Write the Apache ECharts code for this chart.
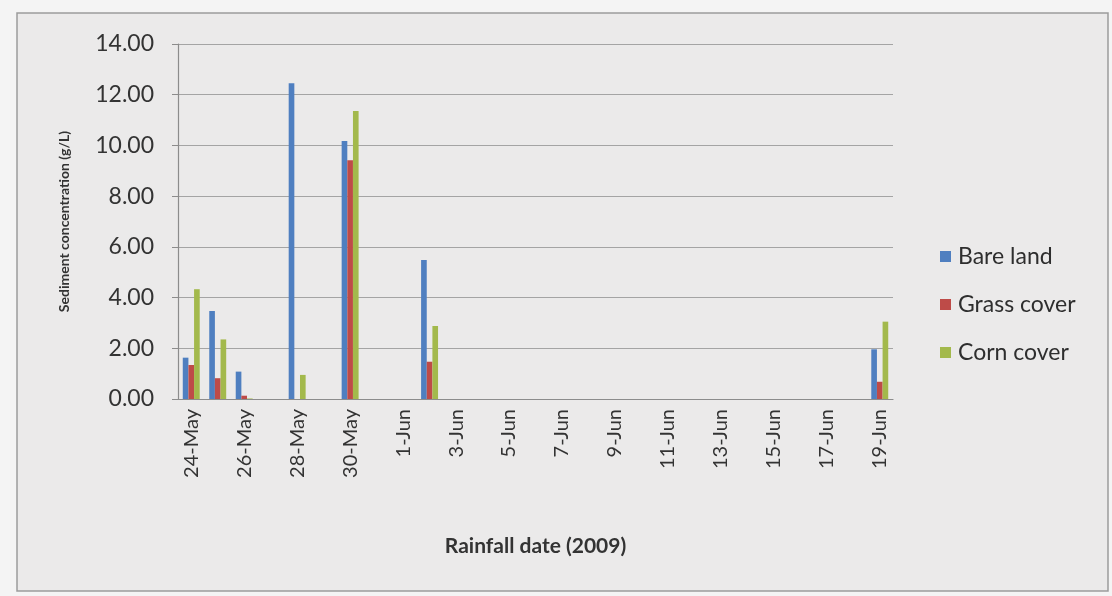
<!DOCTYPE html>
<html>
<head>
<meta charset="utf-8">
<script src="https://cdn.jsdelivr.net/npm/echarts@6/dist/echarts.min.js"></script>
<style>
  html, body { margin: 0; padding: 0; background: #f4f4f4; }
  #chart { width: 1112px; height: 596px; }
</style>
</head>
<body>
<div id="chart"></div>
<script>
// Daily rainfall dates, 24 May – 19 June 2009
const dates = [
  '24-May', '25-May', '26-May', '27-May', '28-May', '29-May', '30-May', '31-May',
  '1-Jun', '2-Jun', '3-Jun', '4-Jun', '5-Jun', '6-Jun', '7-Jun', '8-Jun',
  '9-Jun', '10-Jun', '11-Jun', '12-Jun', '13-Jun', '14-Jun', '15-Jun', '16-Jun',
  '17-Jun', '18-Jun', '19-Jun'
];

// Sediment concentration (g/L); null = no runoff event that day
const bareLand = [1.63, 3.47, 1.08, null, 12.45, null, 10.17, null,
  null, 5.48, null, null, null, null, null, null,
  null, null, null, null, null, null, null, null,
  null, null, 1.96];
const grassCover = [1.34, 0.82, 0.13, null, 0, null, 9.42, null,
  null, 1.47, null, null, null, null, null, null,
  null, null, null, null, null, null, null, null,
  null, null, 0.68];
const cornCover = [4.33, 2.35, 0.02, null, 0.95, null, 11.36, null,
  null, 2.88, null, null, null, null, null, null,
  null, null, null, null, null, null, null, null,
  null, null, 3.05];

const seriesNames = ['Bare land', 'Grass cover', 'Corn cover'];
const seriesColors = ['#4f7fc0', '#be4b48', '#a3b94c'];

const font = 'Lato, "Open Sans", sans-serif';
const chart = echarts.init(document.getElementById('chart'), null, { renderer: 'canvas' });

const seriesData = [bareLand, grassCover, cornCover];

chart.setOption({
  animation: false,
  backgroundColor: '#f4f4f4',
  graphic: [
    {
      type: 'rect',
      silent: true,
      z: -10,
      shape: { x: 17, y: 13, width: 1091, height: 578 },
      style: { fill: '#ebeaea', stroke: '#9c9c9c', lineWidth: 1.5 }
    }
  ],
  grid: { left: 178, right: 219, top: 44, bottom: 197 },
  legend: {
    orient: 'vertical',
    left: 935,
    top: 240,
    itemGap: 25,
    itemWidth: 11,
    itemHeight: 11,
    icon: 'rect',
    textStyle: { fontFamily: font, fontSize: 23, color: '#2e2e2e', padding: [0, 0, 0, 2] },
    data: seriesNames
  },
  xAxis: {
    type: 'category',
    data: dates,
    boundaryGap: true,
    name: 'Rainfall date (2009)',
    nameLocation: 'middle',
    nameGap: 137,
    nameMoveOverlap: false,
    nameTextStyle: { fontFamily: font, fontSize: 21, fontWeight: 'bold', color: '#333' },
    axisLine: { lineStyle: { color: '#8c8c8c', width: 1.2 } },
    axisTick: { show: false },
    axisLabel: {
      interval: 1,
      rotate: 90,
      margin: 10,
      fontFamily: font,
      fontSize: 20,
      color: '#333'
    }
  },
  yAxis: {
    type: 'value',
    min: 0,
    max: 14,
    interval: 2,
    name: 'Sediment concentration (g/L)',
    nameLocation: 'middle',
    nameGap: 107,
    nameMoveOverlap: false,
    nameTextStyle: { fontFamily: font, fontSize: 14, fontWeight: 'bold', color: '#333' },
    axisLine: { show: true, lineStyle: { color: '#8c8c8c', width: 1.2 } },
    axisTick: { show: true, length: 6, lineStyle: { color: '#8c8c8c' } },
    splitLine: { lineStyle: { color: '#a4a4a4', width: 1.2 } },
    axisLabel: {
      margin: 24,
      fontFamily: font,
      fontSize: 23,
      color: '#333',
      formatter: v => v.toFixed(2)
    }
  },
  series: seriesNames.map((name, i) => ({
    name,
    type: 'bar',
    data: seriesData[i],
    barGap: '0%',
    barCategoryGap: '36%',
    itemStyle: { color: seriesColors[i] }
  }))
});
</script>
</body>
</html>
